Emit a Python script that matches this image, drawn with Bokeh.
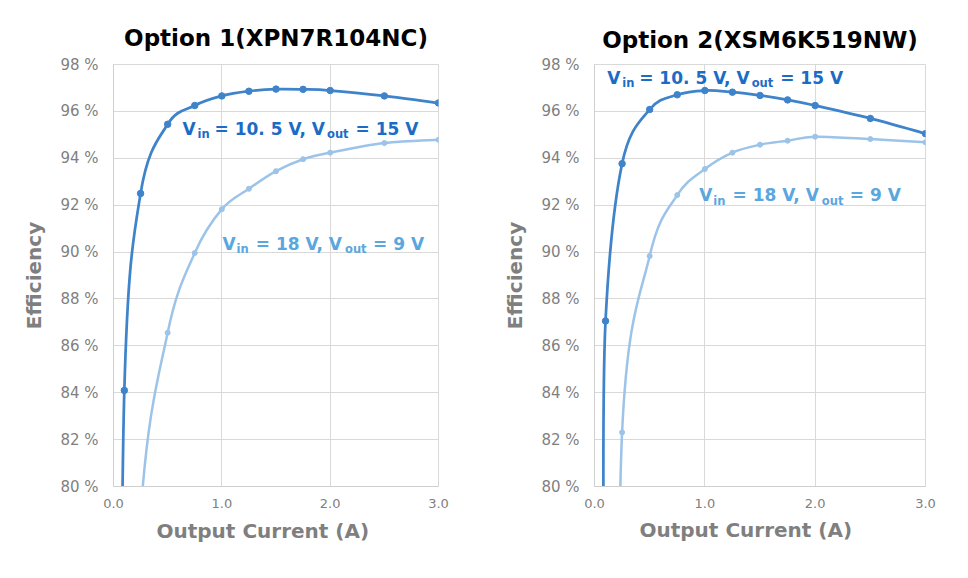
from bokeh.plotting import figure
from bokeh.models import Range1d, FixedTicker, Label, Title
from bokeh.layouts import row
from bokeh.embed import file_html
from bokeh.resources import INLINE

# ---------------- data ----------------
x_ticks = [0, 1, 2, 3]
x_tick_labels = ["0.0", "1.0", "2.0", "3.0"]
y_ticks = [80, 82, 84, 86, 88, 90, 92, 94, 96, 98]
y_tick_labels = ["80 %", "82 %", "84 %", "86 %", "88 %", "90 %", "92 %", "94 %", "96 %", "98 %"]

x_title = "Output Current (A)"
y_title = "Efficiency"

opt1_title = "Option 1(XPN7R104NC)"
opt1_a_current = [0.05, 0.1, 0.25, 0.5, 0.75, 1.0, 1.25, 1.5, 1.75, 2.0, 2.5, 3.0]
opt1_a_eff = [60.0, 84.1, 92.5, 95.45, 96.25, 96.66, 96.86, 96.95, 96.94, 96.89, 96.66, 96.36]
opt1_b_current = [0.1, 0.25, 0.5, 0.75, 1.0, 1.25, 1.5, 1.75, 2.0, 2.5, 3.0]
opt1_b_eff = [60.0, 78.8, 86.56, 89.96, 91.83, 92.70, 93.45, 93.96, 94.24, 94.65, 94.79]

opt2_title = "Option 2(XSM6K519NW)"
opt2_a_current = [0.08, 0.1, 0.25, 0.5, 0.75, 1.0, 1.25, 1.5, 1.75, 2.0, 2.5, 3.0]
opt2_a_eff = [78.0, 87.06, 93.77, 96.08, 96.71, 96.89, 96.82, 96.68, 96.49, 96.25, 95.70, 95.05]
opt2_b_current = [0.2, 0.25, 0.5, 0.75, 1.0, 1.25, 1.5, 1.75, 2.0, 2.5, 3.0]
opt2_b_eff = [60.0, 82.31, 89.83, 92.43, 93.54, 94.24, 94.58, 94.75, 94.92, 94.82, 94.68]

# series label texts (main text pieces and subscripts)
label_a_pieces = ["V", "in", "= 10. 5 V, V", "out", "= 15 V"]
label_b_pieces = ["V", "in", "= 18 V, V", "out", "= 9 V"]

# ---------------- style ----------------
FONT = "DejaVu Sans"
DARK_LINE = "#3F84CA"
LIGHT_LINE = "#9CC3E8"
DARK_TEXT = "#1C6CC6"
LIGHT_TEXT = "#5AA6DE"
GRAY_TEXT = "#7F7F7F"
GRID = "#D9D9D9"

# layout offsets (pixels) for label pieces: (x_offset, y_offset, size)
piece_a_layout = [(0, 0, 17), (15, -5.5, 11.5), (32, 0, 17), (144.5, -5.5, 11.5), (173, 0, 17)]
piece_b_layout = [(0, 0, 17), (14, -5.5, 11.5), (33.3, 0, 17), (122.5, -5.5, 11.5), (150.5, 0, 17)]


def smooth_segments(xs, ys):
    """Bezier segments (Catmull-Rom style smoothing) through the data points."""
    n = len(xs)
    out = dict(x0=[], y0=[], x1=[], y1=[], cx0=[], cy0=[], cx1=[], cy1=[])
    for i in range(n - 1):
        a = max(i - 1, 0)
        d = min(i + 2, n - 1)
        out["x0"].append(xs[i]); out["y0"].append(ys[i])
        out["x1"].append(xs[i + 1]); out["y1"].append(ys[i + 1])
        out["cx0"].append(xs[i] + (xs[i + 1] - xs[a]) / 6.0)
        out["cy0"].append(ys[i] + (ys[i + 1] - ys[a]) / 6.0)
        out["cx1"].append(xs[i + 1] - (xs[d] - xs[i]) / 6.0)
        out["cy1"].append(ys[i + 1] - (ys[d] - ys[i]) / 6.0)
    return out


def add_series_label(p, x, y, pieces, layout, color):
    for text, (dx, dy, fs) in zip(pieces, layout):
        p.add_layout(Label(x=x, y=y, x_units="data", y_units="data",
                           x_offset=dx, y_offset=dy, text=text,
                           text_font=FONT, text_font_style="bold",
                           text_font_size=f"{fs}px", text_color=color,
                           text_align="left", text_baseline="alphabetic"))


def make_chart(title, ax, ay, bx, by, width, left, right, top, bottom,
               a_anchor, b_anchor, title_standoff, xtitle_offset, xtitle_standoff):
    p = figure(width=width, height=578, x_range=Range1d(0, 3), y_range=Range1d(80, 98),
               output_backend="svg", toolbar_location=None,
               min_border_left=left, min_border_right=right,
               min_border_top=top, min_border_bottom=bottom,
               background_fill_color="white", border_fill_color="white")
    p.outline_line_color = GRID
    p.outline_line_width = 1

    p.title.text = title
    p.title.align = "center"
    p.title.text_font = FONT
    p.title.text_font_size = "23px"
    p.title.text_font_style = "bold"
    p.title.text_color = "#000000"
    p.title.standoff = title_standoff

    # axes
    p.xaxis.ticker = FixedTicker(ticks=x_ticks)
    p.xaxis.major_label_overrides = {t: l for t, l in zip(x_ticks, x_tick_labels)}
    p.yaxis.ticker = FixedTicker(ticks=y_ticks)
    p.yaxis.major_label_overrides = {t: l for t, l in zip(y_ticks, y_tick_labels)}
    for ax_ in (p.xaxis, p.yaxis):
        ax_.axis_line_color = "#CFCFCF"
        ax_.major_tick_line_color = None
        ax_.minor_tick_line_color = None
        ax_.major_tick_out = 0
        ax_.major_tick_in = 0
        ax_.major_label_text_font = FONT
        ax_.major_label_text_color = GRAY_TEXT
    p.yaxis.major_label_text_font_size = "15px"
    p.yaxis.major_label_standoff = 15
    p.xaxis.major_label_text_font_size = "13px"
    p.xaxis.major_label_standoff = 12

    p.yaxis.axis_label = y_title
    p.yaxis.axis_label_text_font = FONT
    p.yaxis.axis_label_text_font_size = "20px"
    p.yaxis.axis_label_text_font_style = "bold"
    p.yaxis.axis_label_text_color = GRAY_TEXT
    p.yaxis.axis_label_standoff = 11

    p.xgrid.grid_line_color = GRID
    p.ygrid.grid_line_color = GRID

    # curves
    sa = smooth_segments(ax, ay)
    sb = smooth_segments(bx, by)
    p.bezier(x0="x0", y0="y0", x1="x1", y1="y1", cx0="cx0", cy0="cy0", cx1="cx1", cy1="cy1",
             source=sb, line_color=LIGHT_LINE, line_width=2.5)
    p.scatter(bx, by, size=5, color=LIGHT_LINE)
    p.bezier(x0="x0", y0="y0", x1="x1", y1="y1", cx0="cx0", cy0="cy0", cx1="cx1", cy1="cy1",
             source=sa, line_color=DARK_LINE, line_width=2.75)
    p.scatter(ax, ay, size=6.5, color=DARK_LINE)

    add_series_label(p, a_anchor[0], a_anchor[1], label_a_pieces, piece_a_layout, DARK_TEXT)
    add_series_label(p, b_anchor[0], b_anchor[1], label_b_pieces, piece_b_layout, LIGHT_TEXT)

    xt = Title(text=x_title, align="left", offset=xtitle_offset, standoff=xtitle_standoff,
               text_font=FONT, text_font_size="20px", text_font_style="bold",
               text_color=GRAY_TEXT)
    p.add_layout(xt, "below")
    return p


p1 = make_chart(opt1_title, opt1_a_current, opt1_a_eff, opt1_b_current, opt1_b_eff,
                480, 113, 42, 61, 92, (0.637, 95.26), (1.006, 90.36), 27, 43, 13)
p2 = make_chart(opt2_title, opt2_a_current, opt2_a_eff, opt2_b_current, opt2_b_eff,
                488, 114, 43, 64, 85, (0.115, 97.43), (0.950, 92.42), 24, 45, 10)

layout = row(p1, p2)
open("out.html", "w").write(file_html(layout, INLINE))
